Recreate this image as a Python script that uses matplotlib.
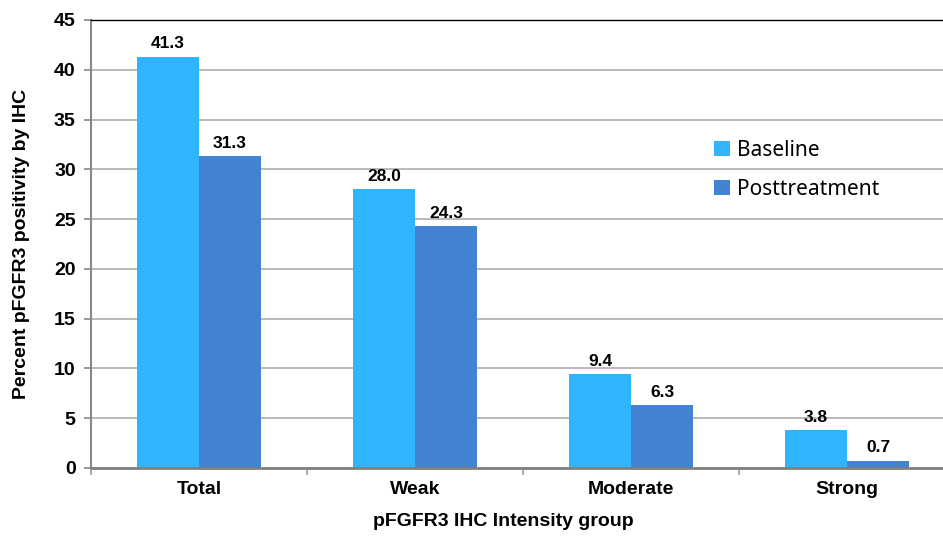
import matplotlib
matplotlib.use("Agg")
import matplotlib.pyplot as plt
import numpy as np
from matplotlib.patches import Patch

categories = ["Total", "Weak", "Moderate", "Strong"]
baseline = [41.3, 28.0, 9.4, 3.8]
posttreatment = [31.3, 24.3, 6.3, 0.7]
series_names = ["Baseline", "Posttreatment"]
yticks = [0, 5, 10, 15, 20, 25, 30, 35, 40, 45]

c_base = "#30B4FE"
c_post = "#4482D2"

fig = plt.figure(figsize=(9.43, 5.36), dpi=100)
ax = fig.add_axes([91/943, 68/536, 864/943, 448/536])

x = np.arange(len(categories))
w = 0.287
b1 = ax.bar(x - w/2, baseline, w, color=c_base, zorder=3)
b2 = ax.bar(x + w/2, posttreatment, w, color=c_post, zorder=3)

for rects, vals in ((b1, baseline), (b2, posttreatment)):
    for r, v in zip(rects, vals):
        ax.annotate(f"{v:.1f}", (r.get_x() + r.get_width()/2, v),
                    xytext=(0, 4), textcoords="offset points",
                    ha="center", va="bottom", fontsize=12.5, fontweight="bold",
                    family="Liberation Sans", zorder=4)

ax.set_xlim(-0.5, 3.5)
ax.set_ylim(0, 45)
ax.set_yticks(yticks)
ax.set_yticklabels([str(t) for t in yticks], fontsize=14, fontweight="bold",
                   family="Liberation Sans")
ax.set_xticks(x)
ax.set_xticklabels(categories, fontsize=14, fontweight="bold", family="Liberation Sans")
ax.tick_params(axis="x", length=0, pad=9)
ax.tick_params(axis="y", length=5, width=1.2, color="#888888", pad=6, direction="out")
ax.set_xticks(np.arange(-0.5, 4.0, 1.0), minor=True)
ax.tick_params(axis="x", which="minor", length=5, width=1.2, color="#999999", direction="out")

ax.yaxis.grid(True, color="#B4B4B4", linewidth=1.3, zorder=0)
ax.set_axisbelow(True)

ax.spines["right"].set_visible(False)
ax.spines["top"].set_color("#000000")
ax.spines["top"].set_linewidth(1.0)
ax.spines["left"].set_color("#888888")
ax.spines["left"].set_linewidth(1.5)
ax.spines["bottom"].set_color("#808080")
ax.spines["bottom"].set_linewidth(2.0)
ax.spines["bottom"].set_zorder(5)

ax.set_ylabel("Percent pFGFR3 positivity by IHC", fontsize=14, fontweight="bold",
              family="Liberation Sans")
ax.yaxis.set_label_coords(-(91-30)/864, 0.5)
ax.set_xlabel("pFGFR3 IHC Intensity group", fontsize=14, fontweight="bold",
              family="Liberation Sans")
ax.xaxis.set_label_coords((503-91)/864, -(513-468)/448)

handles = [Patch(facecolor=c_base, edgecolor="none"), Patch(facecolor=c_post, edgecolor="none")]
leg = ax.legend(handles, series_names, loc="upper left",
                bbox_to_anchor=((714-91)/864, (468-140)/448),
                frameon=False, prop={"family": "Noto Sans", "size": 15},
                handlelength=0.75, handleheight=0.75, handletextpad=0.35, labelspacing=0.85,
                borderaxespad=0, borderpad=0)

fig.savefig("out.png", dpi=100)
